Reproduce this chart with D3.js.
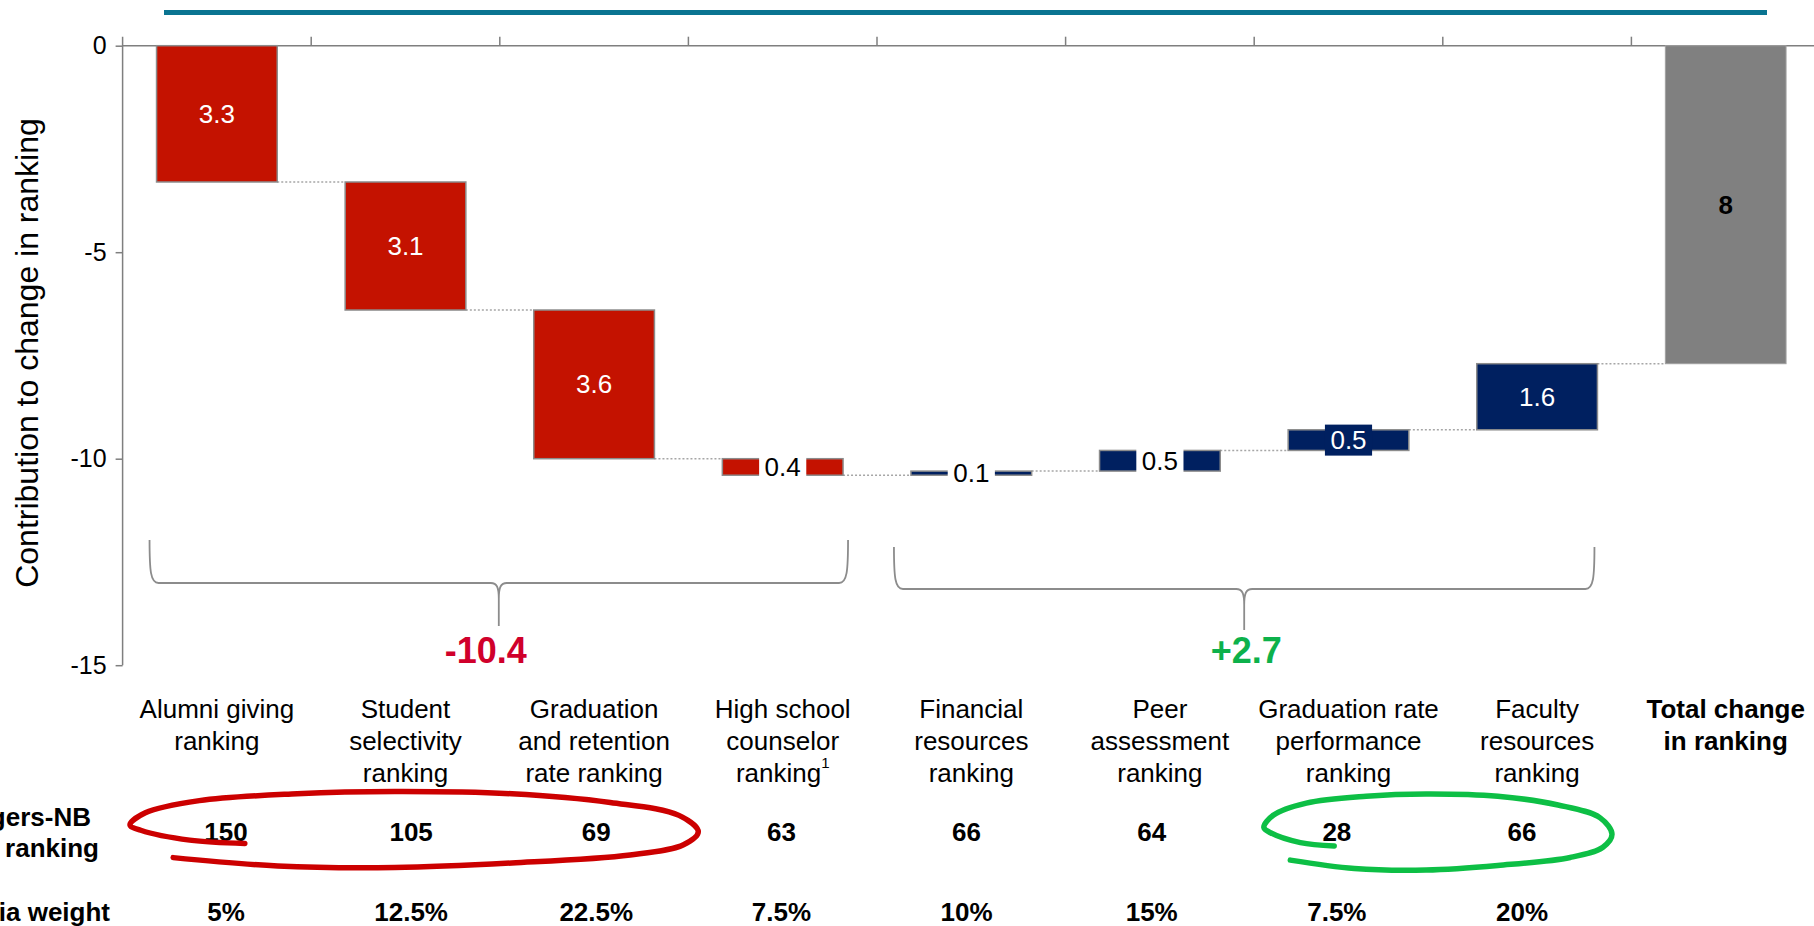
<!DOCTYPE html>
<html>
<head>
<meta charset="utf-8">
<script src="https://cdn.jsdelivr.net/npm/d3@7"></script>
<style>
  html, body { margin: 0; padding: 0; background: #fff; }
  svg { display: block; font-family: "Liberation Sans", Arial, sans-serif; }
</style>
</head>
<body>
<svg id="chart" width="1814" height="926"></svg>
<script>
// data
const categories = [
  "Alumni giving ranking", "Student selectivity ranking", "Graduation and retention rate ranking",
  "High school counselor ranking", "Financial resources ranking", "Peer assessment ranking",
  "Graduation rate performance ranking", "Faculty resources ranking"
];
const categoryLines = [
  ["Alumni giving", "ranking"],
  ["Student", "selectivity", "ranking"],
  ["Graduation", "and retention", "rate ranking"],
  ["High school", "counselor", "ranking"],
  ["Financial", "resources", "ranking"],
  ["Peer", "assessment", "ranking"],
  ["Graduation rate", "performance", "ranking"],
  ["Faculty", "resources", "ranking"]
];
const totalCategory = "Total change in ranking";
const totalLines = ["Total change", "in ranking"];
const contributions = [-3.3, -3.1, -3.6, -0.4, 0.1, 0.5, 0.5, 1.6];
const rutgersRanking = [150, 105, 69, 63, 66, 64, 28, 66];
const criteriaWeight = ["5%", "12.5%", "22.5%", "7.5%", "10%", "15%", "7.5%", "20%"];
const yTicks = [0, -5, -10, -15];
const groupRanges = [[0, 3], [4, 7]];
const redCircled = [0, 2];
const greenCircled = [6, 7];

const svg = d3.select("#chart");
const W = 1814;

const colors = { neg: "#c41200", pos: "#002060", total: "#808080", axis: "#7f7f7f" };

const allCats = categories.concat([totalCategory]);
const x = d3.scaleBand()
  .domain(allCats)
  .range([122.6, 1820])
  .paddingInner(0.36)
  .paddingOuter(0.18);
const bw = x.bandwidth();
const gap = (x.step() - bw) / 2;

const y = d3.scaleLinear().domain([-15, 0]).range([665.2, 45.7]);

// running totals
let cum = 0;
const steps = contributions.map((v, i) => {
  const s = { cat: categories[i], v, start: cum, end: cum + v };
  cum += v;
  return s;
});
const total = cum;

// teal rule on top
svg.append("line")
  .attr("x1", 164).attr("x2", 1767)
  .attr("y1", 12.5).attr("y2", 12.5)
  .attr("stroke", "#0a7491").attr("stroke-width", 5);

// top category axis (ticks at band boundaries)
const axisG = svg.append("g");
axisG.append("line")
  .attr("x1", x.range()[0]).attr("x2", W)
  .attr("y1", y(0)).attr("y2", y(0))
  .attr("stroke", colors.axis).attr("stroke-width", 1.5);
allCats.slice(1).forEach(c => {
  const bx = x(c) - gap;
  axisG.append("line")
    .attr("x1", bx).attr("x2", bx)
    .attr("y1", y(0)).attr("y2", y(0) - 9)
    .attr("stroke", colors.axis).attr("stroke-width", 1.5);
});

// y axis
const yAxis = svg.append("g")
  .attr("transform", `translate(${x.range()[0]},0)`)
  .call(d3.axisLeft(y).tickValues(yTicks).tickSize(7).tickPadding(9).tickFormat(d => String(d)));
yAxis.select(".domain").remove();
yAxis.selectAll(".tick line").attr("stroke", colors.axis).attr("stroke-width", 1.5);
yAxis.selectAll(".tick text")
  .attr("font-family", '"Liberation Sans", Arial, sans-serif')
  .attr("font-size", 25).attr("fill", "#000");
svg.append("line")
  .attr("x1", x.range()[0]).attr("x2", x.range()[0])
  .attr("y1", y(0) - 9).attr("y2", y(-15))
  .attr("stroke", colors.axis).attr("stroke-width", 1.5);

svg.append("text")
  .attr("transform", `translate(27,${(116 + 590) / 2}) rotate(-90)`)
  .attr("text-anchor", "middle")
  .attr("dy", "0.35em")
  .attr("font-size", 32)
  .text("Contribution to change in ranking");

// connectors
const connectorPts = steps.map((s, i) => ({
  x1: x(s.cat) + bw,
  x2: x(allCats[i + 1]),
  yv: s.end
}));
svg.append("g").selectAll("line")
  .data(connectorPts)
  .join("line")
  .attr("x1", d => d.x1).attr("x2", d => d.x2)
  .attr("y1", d => y(d.yv)).attr("y2", d => y(d.yv))
  .attr("stroke", "#a6a6a6").attr("stroke-width", 1.5)
  .attr("stroke-dasharray", "2,2");

// waterfall bars
svg.append("g").selectAll("rect")
  .data(steps)
  .join("rect")
  .attr("x", d => x(d.cat))
  .attr("y", d => y(Math.max(d.start, d.end)))
  .attr("width", bw)
  .attr("height", d => Math.abs(y(d.start) - y(d.end)))
  .attr("fill", d => d.v < 0 ? colors.neg : colors.pos)
  .attr("stroke", "#8c8c8c").attr("stroke-width", 1.5);

// total bar
svg.append("rect")
  .attr("x", x(totalCategory))
  .attr("y", y(0))
  .attr("width", bw)
  .attr("height", y(total) - y(0))
  .attr("fill", colors.total)
  .attr("stroke", "#a0a0a0").attr("stroke-width", 1);

// bar labels
const fmt1 = d3.format(".1f");
const boxedInBarColour = ["Graduation rate performance ranking"];
const labelG = svg.append("g");
steps.forEach(s => {
  const cx = x(s.cat) + bw / 2;
  const cy = (y(s.start) + y(s.end)) / 2;
  const h = Math.abs(y(s.start) - y(s.end));
  const fill = s.v < 0 ? colors.neg : colors.pos;
  const small = h < 30;
  const dark = boxedInBarColour.includes(s.cat);
  const box = labelG.append("rect");
  const t = labelG.append("text")
    .attr("x", cx).attr("y", cy)
    .attr("dy", "0.35em")
    .attr("text-anchor", "middle")
    .attr("font-size", 26)
    .attr("fill", small && !dark ? "#000" : "#fff")
    .text(fmt1(Math.abs(s.v)));
  if (small) {
    const bb = t.node().getBBox();
    box.attr("x", cx - bb.width / 2 - 5.5)
      .attr("y", cy - 15.5)
      .attr("width", bb.width + 11)
      .attr("height", 31)
      .attr("fill", dark ? fill : "#fff");
  } else {
    box.remove();
  }
});
svg.append("text")
  .attr("x", x(totalCategory) + bw / 2)
  .attr("y", (y(0) + y(total)) / 2)
  .attr("dy", "0.35em")
  .attr("text-anchor", "middle")
  .attr("font-size", 26).attr("font-weight", "bold")
  .text(d3.format(".0f")(Math.abs(total)));

// braces with group sums
const braceLayout = [
  { padL: -7, padR: 5, top: 540, mid: 583, tip: 626, labelDx: -13, color: "#d0002b" },
  { padL: -17, padR: -3, top: 547, mid: 589, tip: 630, labelDx: 2, color: "#0db14b" }
];
const fmtSigned = v => d3.format("+.1f")(v).replace("\u2212", "-");
groupRanges.forEach(([a, b], gi) => {
  const L = braceLayout[gi];
  const xa = x(categories[a]) + L.padL;
  const xb = x(categories[b]) + bw + L.padR;
  const xm = (xa + xb) / 2;
  const p = d3.path();
  p.moveTo(xa, L.top);
  p.bezierCurveTo(xa, L.mid - 12, xa + 1, L.mid, xa + 9, L.mid);
  p.lineTo(xm - 8, L.mid);
  p.bezierCurveTo(xm - 2, L.mid, xm, L.mid + 4, xm, L.mid + 16);
  p.lineTo(xm, L.tip);
  p.moveTo(xm, L.mid + 16);
  p.bezierCurveTo(xm, L.mid + 4, xm + 2, L.mid, xm + 8, L.mid);
  p.lineTo(xb - 9, L.mid);
  p.bezierCurveTo(xb - 1, L.mid, xb, L.mid - 12, xb, L.top);
  svg.append("path")
    .attr("d", p.toString())
    .attr("fill", "none").attr("stroke", "#8c8c8c").attr("stroke-width", 1.8);
  const sum = d3.sum(contributions.slice(a, b + 1));
  svg.append("text")
    .attr("x", xm + L.labelDx).attr("y", 650)
    .attr("dy", "0.35em")
    .attr("text-anchor", "middle")
    .attr("font-size", 36).attr("font-weight", "bold")
    .attr("fill", L.color)
    .text(fmtSigned(sum));
});

// category labels
const catLabels = svg.append("g").attr("font-size", 26);
categoryLines.forEach((lines, i) => {
  const t = catLabels.append("text")
    .attr("text-anchor", "middle")
    .attr("x", x(categories[i]) + bw / 2);
  lines.forEach((ln, j) => {
    const ts = t.append("tspan")
      .attr("x", x(categories[i]) + bw / 2)
      .attr("y", 708.5 + j * 32)
      .attr("dy", "0.35em")
      .text(ln);
    if (i === 3 && j === lines.length - 1) {
      ts.append("tspan").attr("font-size", 15).attr("dy", "-0.9em").text("1");
    }
  });
});
const tt = catLabels.append("text")
  .attr("text-anchor", "middle").attr("font-weight", "bold");
totalLines.forEach((ln, j) => {
  tt.append("tspan")
    .attr("x", x(totalCategory) + bw / 2)
    .attr("y", 708.5 + j * 32)
    .attr("dy", "0.35em")
    .text(ln);
});

// table rows
const tx = d3.scalePoint().domain(categories).range([226, 1522]);
const table = svg.append("g").attr("font-size", 26).attr("font-weight", "bold").attr("text-anchor", "middle");
table.selectAll("text.rank")
  .data(rutgersRanking)
  .join("text").attr("class", "rank")
  .attr("x", (d, i) => tx(categories[i])).attr("y", 831.7).attr("dy", "0.35em")
  .text(d => d);
table.selectAll("text.weight")
  .data(criteriaWeight)
  .join("text").attr("class", "weight")
  .attr("x", (d, i) => tx(categories[i])).attr("y", 911.7).attr("dy", "0.35em")
  .text(d => d);

const rowLabels = svg.append("g").attr("font-size", 26).attr("font-weight", "bold").attr("text-anchor", "end");
rowLabels.append("text").attr("x", 91).attr("y", 816.7).attr("dy", "0.35em").text("Rutgers-NB");
rowLabels.append("text").attr("x", 99).attr("y", 848.3).attr("dy", "0.35em").text("ranking");
rowLabels.append("text").attr("x", 110).attr("y", 911.7).attr("dy", "0.35em").text("Criteria weight");

// hand-drawn loops round the table values
const loopShape = [
  [0.202, 0.683], [0.105, 0.64], [0.019, 0.51], [0, 0.44], [0.027, 0.28], [0.122, 0.12],
  [0.294, 0.03], [0.466, 0], [0.672, 0.03], [0.845, 0.145], [0.966, 0.314], [1, 0.53],
  [0.974, 0.70], [0.88, 0.835], [0.672, 0.94], [0.466, 1], [0.26, 0.98], [0.076, 0.87]
];
const loopLine = d3.line().curve(d3.curveCatmullRom.alpha(0.5));
function drawLoop([a, b], padL, padR, top, h, color) {
  const x0 = tx(categories[a]) - padL;
  const x1 = tx(categories[b]) + padR;
  const pts = loopShape.map(([u, v]) => [x0 + u * (x1 - x0), top + v * h]);
  svg.append("path")
    .attr("d", loopLine(pts))
    .attr("fill", "none").attr("stroke", color)
    .attr("stroke-width", 5.5).attr("stroke-linecap", "round");
}
drawLoop(redCircled, 96, 102, 791.5, 76, "#cc0000");
drawLoop(greenCircled, 73, 90, 794, 76, "#0dbf45");
</script>
</body>
</html>
